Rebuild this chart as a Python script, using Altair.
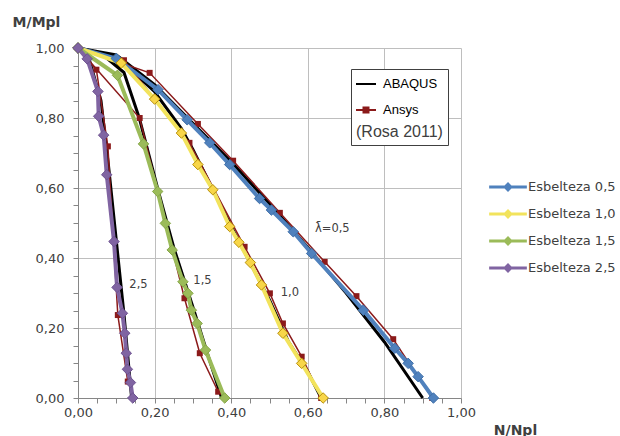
import altair as alt
import pandas as pd

# ---------------- data ----------------
series = ["Esbelteza 0,5", "Esbelteza 1,0", "Esbelteza 1,5", "Esbelteza 2,5"]

n_05 = [0.0, 0.100, 0.209, 0.285, 0.344, 0.396, 0.474, 0.505, 0.562, 0.610, 0.745, 0.827, 0.862, 0.888, 0.928]
m_05 = [1.0, 0.970, 0.881, 0.795, 0.729, 0.667, 0.570, 0.537, 0.475, 0.413, 0.251, 0.142, 0.099, 0.061, 0.0]

n_10 = [0.0, 0.113, 0.200, 0.270, 0.313, 0.352, 0.396, 0.420, 0.450, 0.479, 0.535, 0.584, 0.640]
m_10 = [1.0, 0.957, 0.854, 0.757, 0.667, 0.595, 0.490, 0.445, 0.387, 0.323, 0.185, 0.099, 0.0]

n_15 = [0.0, 0.103, 0.171, 0.208, 0.228, 0.246, 0.274, 0.287, 0.296, 0.311, 0.333, 0.383]
m_15 = [1.0, 0.922, 0.726, 0.590, 0.499, 0.423, 0.332, 0.299, 0.251, 0.213, 0.137, 0.0]

n_25 = [0.0, 0.024, 0.052, 0.054, 0.067, 0.075, 0.094, 0.102, 0.116, 0.122, 0.126, 0.129, 0.137, 0.143]
m_25 = [1.0, 0.969, 0.876, 0.805, 0.751, 0.638, 0.447, 0.316, 0.242, 0.185, 0.128, 0.082, 0.044, 0.0]

# ABAQUS (black lines)
abq_n_05 = [0.0, 0.10, 0.20, 0.30, 0.40, 0.50, 0.60, 0.70, 0.80, 0.90]
abq_m_05 = [1.0, 0.98, 0.895, 0.785, 0.675, 0.555, 0.43, 0.30, 0.16, 0.0]
abq_n_10 = [0.0, 0.10, 0.20, 0.27, 0.30, 0.35, 0.40, 0.45, 0.50, 0.55, 0.60, 0.635]
abq_m_10 = [1.0, 0.975, 0.875, 0.77, 0.71, 0.60, 0.49, 0.385, 0.28, 0.16, 0.075, 0.0]
abq_n_15 = [0.0, 0.06, 0.12, 0.16, 0.21, 0.25, 0.30, 0.34, 0.375]
abq_m_15 = [1.0, 0.985, 0.93, 0.80, 0.59, 0.43, 0.26, 0.12, 0.0]
abq_n_25 = [0.0, 0.03, 0.06, 0.08, 0.10, 0.12, 0.14]
abq_m_25 = [1.0, 0.965, 0.85, 0.66, 0.45, 0.24, 0.0]

# Ansys (Rosa 2011) - dark red squares
ans_n_05 = [0.0, 0.187, 0.313, 0.405, 0.527, 0.644, 0.727, 0.823, 0.925]
ans_m_05 = [1.0, 0.929, 0.783, 0.678, 0.529, 0.389, 0.291, 0.168, 0.0]
ans_n_10 = [0.0, 0.12, 0.291, 0.435, 0.501, 0.535, 0.584, 0.635]
ans_m_10 = [1.0, 0.965, 0.729, 0.432, 0.299, 0.213, 0.118, 0.0]
ans_n_15 = [0.0, 0.161, 0.278, 0.318, 0.366]
ans_m_15 = [1.0, 0.800, 0.285, 0.128, 0.018]
ans_n_25 = [0.0, 0.048, 0.078, 0.104, 0.130]
ans_m_25 = [1.0, 0.938, 0.719, 0.237, 0.047]

models = ["ABAQUS", "Ansys"]

ann_labels = ["2,5", "1,5", "1,0", "\u03bb\u0304=0,5"]
ann_n = [0.158, 0.325, 0.553, 0.664]
ann_m = [0.323, 0.334, 0.300, 0.483]

# ---------------- styling ----------------
line_colors = ["#4F81BD", "#F2E35C", "#9BBB59", "#8064A2"]
fill_colors = ["#4F81BD", "#F8D648", "#9BBB59", "#8064A2"]
stroke_colors = ["#3F6FA8", "#B8900A", "#86A648", "#6D5290"]
legend_colors = ["#4F81BD", "#F2E35C", "#9BBB59", "#8064A2"]
model_colors = ["#000000", "#8B1A1A"]

PATH_ESB = "M-1.45,-0.12L1.45,-0.12L1.45,0.12L-1.45,0.12Z M0,-0.38L0.38,0L0,0.38L-0.38,0Z"
PATH_LINE = "M-1,-0.1L1,-0.1L1,0.1L-1,0.1Z"
PATH_SQ = "M-1,-0.1L1,-0.1L1,0.1L-1,0.1Z M-0.35,-0.35L0.35,-0.35L0.35,0.35L-0.35,0.35Z"


def long_df(names, ns_list, ms_list, model=None):
    rows = []
    for s, ns, ms in zip(names, ns_list, ms_list):
        for i, (n, m) in enumerate(zip(ns, ms)):
            r = {"serie": s, "idx": i, "N": n, "M": m}
            if model:
                r["model"] = model
            rows.append(r)
    return pd.DataFrame(rows)


esb = long_df(series, [n_05, n_10, n_15, n_25], [m_05, m_10, m_15, m_25])
abq = long_df(series, [abq_n_05, abq_n_10, abq_n_15, abq_n_25],
              [abq_m_05, abq_m_10, abq_m_15, abq_m_25], "ABAQUS")
ans = long_df(series, [ans_n_05, ans_n_10, ans_n_15, ans_n_25],
              [ans_m_05, ans_m_10, ans_m_15, ans_m_25], "Ansys")
refs = pd.concat([abq, ans], ignore_index=True)
ann = pd.DataFrame({"label": ann_labels, "N": ann_n, "M": ann_m})

# ---------------- axes ----------------
ticks = [round(i * 0.05, 2) for i in range(21)]
major = "round(datum.value*100) % 20 === 0"
lab_expr = f"{major} ? replace(format(datum.value, '.2f'), '.', ',') : ''"
grid_op = {"condition": {"test": major, "value": 1}, "value": 0}

common_axis = dict(
    values=ticks, labelExpr=lab_expr, grid=True, gridColor="#BEBEBE",
    gridOpacity=grid_op, gridWidth=1, domainColor="#868686", tickColor="#868686",
    tickSize=5, labelFont="DejaVu Sans", labelFontSize=13, labelColor="#404040",
    labelFlush=False, labelOverlap=False, titleFont="DejaVu Sans",
    titleFontSize=14, titleFontWeight="bold", titleColor="#404040",
    titleAngle=0, titleAlign="center", titleBaseline="middle",
)
xaxis = alt.Axis(title="N/Npl", labelPadding=3, titleX=437, titleY=32, **common_axis)
yaxis = alt.Axis(title="M/Mpl", labelPadding=9, titleX=-42, titleY=-26, **common_axis)

xs = alt.Scale(domain=[0, 1], nice=False, zero=False)
ys = alt.Scale(domain=[0, 1], nice=False, zero=False)


def X():
    return alt.X("N:Q", scale=xs, axis=xaxis)


def Y():
    return alt.Y("M:Q", scale=ys, axis=yaxis)


# ---------------- layers ----------------
abq_line = alt.Chart(abq).mark_line(color="black", strokeWidth=3).encode(
    x=X(), y=Y(), detail="serie:N", order="idx:Q")

ans_line = alt.Chart(ans).mark_line(color="#8B1A1A", strokeWidth=1.5).encode(
    x=X(), y=Y(), detail="serie:N", order="idx:Q")

ans_pts = alt.Chart(ans).mark_square(color="#8B1A1A", size=36, opacity=1).encode(
    x=X(), y=Y())

esb_line = alt.Chart(esb).mark_line(strokeWidth=4).encode(
    x=X(), y=Y(), order="idx:Q",
    color=alt.Color("serie:N", scale=alt.Scale(domain=series, range=line_colors), legend=None))

esb_pts = alt.Chart(esb).mark_point(shape="diamond", filled=True, size=110, strokeWidth=1,
                                    opacity=1).encode(
    x=X(), y=Y(),
    fill=alt.Fill("serie:N", scale=alt.Scale(domain=series, range=fill_colors), legend=None),
    stroke=alt.Stroke("serie:N", scale=alt.Scale(domain=series, range=stroke_colors), legend=None))

leg1 = alt.Legend(
    orient="none", legendX=417, legendY=126, title=None, symbolType=PATH_ESB,
    symbolSize=676, symbolStrokeWidth=0, symbolOpacity=1, labelFont="DejaVu Sans",
    labelFontSize=13, labelColor="#404040", labelOffset=7, rowPadding=7, padding=0, offset=0)

legend1_carrier = alt.Chart(esb).mark_point(filled=True, opacity=0).encode(
    x=X(), y=Y(),
    color=alt.Color("serie:N", scale=alt.Scale(domain=series, range=legend_colors), legend=leg1))

leg2 = alt.Legend(
    orient="none", legendX=273, legendY=21, title="(Rosa 2011)", titleOrient="bottom",
    titleAnchor="start", titleFont="Liberation Sans", titleFontSize=16,
    titleFontWeight="normal", titleColor="#404040", titlePadding=7,
    labelFont="Liberation Sans", labelFontSize=13, labelColor="#000000", labelOffset=7,
    symbolSize=400, symbolStrokeWidth=0, symbolOpacity=1, rowPadding=9, padding=5,
    strokeColor="#404040", fillColor="white", offset=0)

legend2_carrier = alt.Chart(refs).mark_point(filled=True, opacity=0).encode(
    x=X(), y=Y(),
    color=alt.Color("model:N", scale=alt.Scale(domain=models, range=model_colors), legend=leg2),
    shape=alt.Shape("model:N", scale=alt.Scale(domain=models, range=[PATH_LINE, PATH_SQ]),
                    legend=leg2))

labels = alt.Chart(ann).mark_text(font="DejaVu Sans", fontSize=11.5, color="#404040").encode(
    x=X(), y=Y(), text="label:N")

chart = alt.layer(
    abq_line, ans_line, ans_pts, esb_line, esb_pts, labels, legend1_carrier, legend2_carrier
).resolve_scale(
    color="independent", fill="independent", stroke="independent", shape="independent"
).properties(
    width=383, height=350,
    autosize=alt.AutoSizeParams(type="none"),
    padding={"left": 78, "top": 48, "right": 159, "bottom": 38},
    background="white",
).configure_view(strokeWidth=0)

chart.save("out.html", embed_options={"renderer": "svg", "actions": False})
